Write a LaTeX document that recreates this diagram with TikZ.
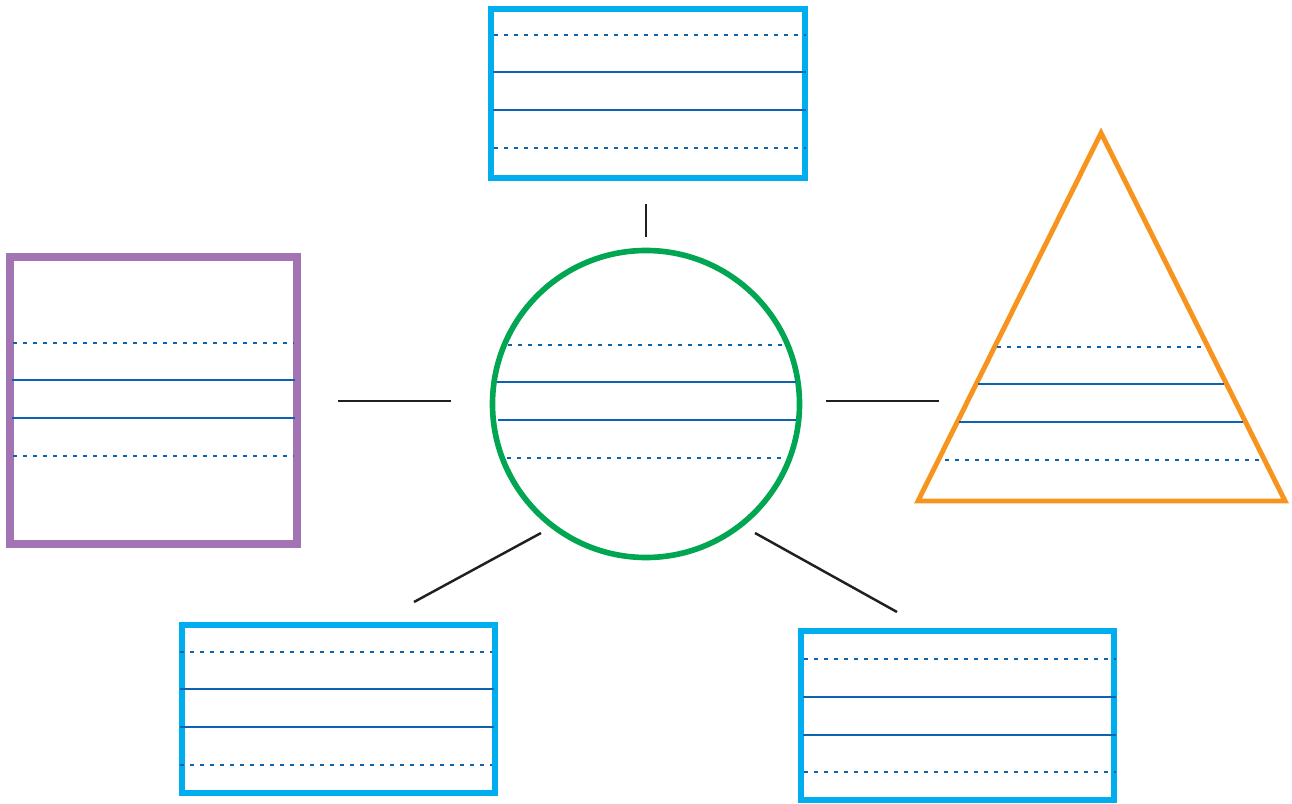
\documentclass[tikz,border=0pt]{standalone}
\usepackage{tikz}

\definecolor{boxcyan}{HTML}{00AEEF}
\definecolor{boxpurple}{HTML}{A374B3}
\definecolor{hubgreen}{HTML}{00A651}
\definecolor{triorange}{HTML}{F7941D}
\definecolor{rulecol}{HTML}{0D63B0}
\definecolor{linkcol}{HTML}{231F20}

\begin{document}
\begin{tikzpicture}[x=0.2mm,y=-0.2mm,
  box/.style={draw=boxcyan,line width=3.2pt},
  rule/.style={draw=rulecol,line width=1.1pt},
  dotrule/.style={rule,dash pattern=on 0.8mm off 1.2mm},
  link/.style={draw=linkcol,line width=1.4pt}]
\useasboundingbox (0,0) rectangle (1292,804);

% top box
\draw[box] (491,9) rectangle (805,178);
\draw[dotrule] (494,35) -- (806,35);
\draw[rule] (493,72) -- (806,72);
\draw[rule] (493,110) -- (806,110);
\draw[dotrule] (494,148) -- (806,148);

% left box
\draw[draw=boxpurple,line width=4.5pt] (10,257) rectangle (297,544);
\draw[dotrule] (13,343) -- (294,343);
\draw[rule] (12,380) -- (295,380);
\draw[rule] (12,418) -- (295,418);
\draw[dotrule] (13,456) -- (294,456);

% hub circle
\node[circle,draw=hubgreen,line width=3.2pt,minimum size=61.4mm,inner sep=0pt] (hub) at (646,404) {};
\draw[dotrule] (508,345) -- (782,345);
\draw[rule] (497,382) -- (796,382);
\draw[rule] (498,420) -- (796,420);
\draw[dotrule] (507,458) -- (782,458);

% triangle
\draw[draw=triorange,line width=2.8pt,line join=miter] (1101,133) -- (1285,501) -- (918,501) -- cycle;
\draw[dotrule] (997,347) -- (1205,347);
\draw[rule] (978,384) -- (1224,384);
\draw[rule] (959,422) -- (1243,422);
\draw[dotrule] (945,460) -- (1260,460);

% bottom left box
\draw[box] (182,625) rectangle (495,793);
\draw[dotrule] (180,652) -- (492,652);
\draw[rule] (180,689) -- (494,689);
\draw[rule] (180,727) -- (494,727);
\draw[dotrule] (180,765) -- (492,765);

% bottom right box
\draw[box] (801,631) rectangle (1114,800);
\draw[dotrule] (804,659) -- (1116,659);
\draw[rule] (803,697) -- (1116,697);
\draw[rule] (803,735) -- (1116,735);
\draw[dotrule] (804,772) -- (1116,772);

% links
\coordinate (topa) at (646,204);
\coordinate (topb) at (646,237);
\coordinate (lefta) at (338,401);
\coordinate (leftb) at (451,401);
\coordinate (righta) at (826,401);
\coordinate (rightb) at (939,401);
\coordinate (bla) at (541,533);
\coordinate (blb) at (414,602);
\coordinate (bra) at (755,533);
\coordinate (brb) at (897,612);
\draw[link] (topa) -- (topb);
\draw[link] (lefta) -- (leftb);
\draw[link] (righta) -- (rightb);
\draw[link] (bla) -- (blb);
\draw[link] (bra) -- (brb);
\end{tikzpicture}
\end{document}
